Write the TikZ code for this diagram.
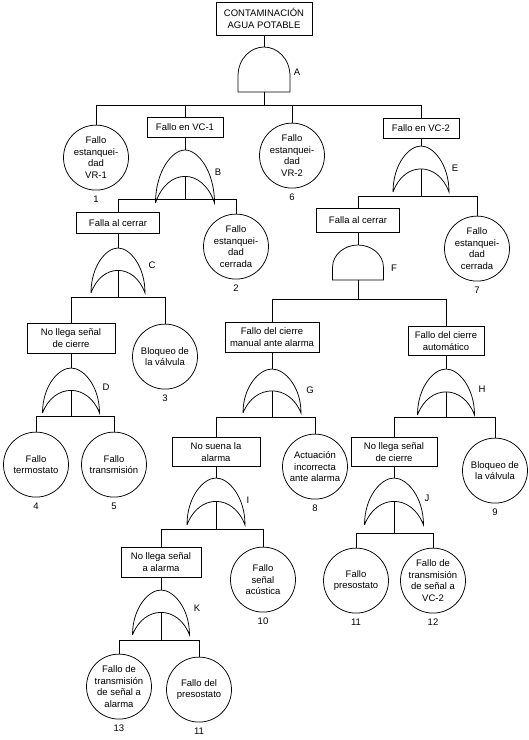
\documentclass[tikz,border=0pt]{standalone}
\usepackage{fontspec}
\setmainfont{Liberation Sans}
\usetikzlibrary{positioning}

\tikzset{
  pics/orgate/.style 2 args={code={
    \draw (-#1/2,0) .. controls (-#1/2,-0.6*#2) and (-0.22*#1,-#2) .. (0,-#2)
      .. controls (0.22*#1,-#2) and (#1/2,-0.6*#2) .. (#1/2,0)
      .. controls (0.3*#1,-0.67*#2) and (-0.3*#1,-0.67*#2) .. (-#1/2,0);
    \coordinate (-in) at (0,-#2);
    \coordinate (-out) at (0,-0.5*#2);
  }},
  pics/andgate/.style 2 args={code={
    \draw (-#1/2,0) -- (-#1/2,-0.35*#2)
      .. controls (-#1/2,-0.75*#2) and (-0.25*#1,-#2) .. (0,-#2)
      .. controls (0.25*#1,-#2) and (#1/2,-0.75*#2) .. (#1/2,-0.35*#2)
      -- (#1/2,0) -- cycle;
    \coordinate (-in) at (0,-#2);
    \coordinate (-out) at (0,0);
  }}
}

\begin{document}
\begin{tikzpicture}[x=1pt, y=-1pt, line width=0.75pt,
    every node/.style={font=\fontsize{9.5}{11.5}\selectfont},
    event/.style={draw, align=center, inner sep=0pt},
    basic/.style={draw, circle, align=center, inner sep=0pt, minimum size=65pt},
    num/.style={inner sep=0pt},
    glbl/.style={inner sep=0pt}]
    \useasboundingbox (0,0) rectangle (529,740);
    % top event
    \node[event, minimum width=96pt, minimum height=33pt] (top) at (264,18.5) {CONTAMINACIÓN\\AGUA POTABLE};
    \pic (gA) at (264,92) {andgate={52}{45}};
    \node[glbl] (lA) at (297,72) {A};
    \coordinate (jA) at (264,105);
    \node[basic] (c1) at (96,157.6) {Fallo\\estanquei-\\dad\\VR-1};
    \node[event, minimum width=76pt, minimum height=20pt] (vc1) at (185,127.5) {Fallo en VC-1};
    \node[basic] (c6) at (292,155.6) {Fallo\\estanquei-\\dad\\VR-2};
    \node[event, minimum width=76pt, minimum height=20pt] (vc2) at (421,128) {Fallo en VC-2};
    \draw (top) -- (gA-in);
    \draw (gA-out) -- (jA);
    \foreach \n in {c1,vc1,c6,vc2} \draw (jA) -| (\n);
    % left branch
    \pic (gB) at (185,203) {orgate={59}{53}};
    \node[glbl] (lB) at (218,172) {B};
    \coordinate (jB) at (185,199);
    \node[event, minimum width=83pt, minimum height=21pt] (fc1) at (118,223) {Falla al cerrar};
    \node[basic] (c2) at (236,246.6) {Fallo\\estanquei-\\dad\\cerrada};
    \draw (vc1) -- (gB-in);
    \draw (gB-out) -- (jB);
    \foreach \n in {fc1,c2} \draw (jB) -| (\n);
    \pic (gC) at (118,293) {orgate={54}{45}};
    \node[glbl] (lC) at (152,265) {C};
    \coordinate (jC) at (118,297);
    \node[event, minimum width=88pt, minimum height=30pt] (nl1) at (71,338) {No llega señal\\de cierre};
    \node[basic] (c3) at (165,356.6) {Bloqueo de\\la válvula};
    \draw (fc1) -- (gC-in);
    \draw (gC-out) -- (jC);
    \foreach \n in {nl1,c3} \draw (jC) -| (\n);
    \pic (gD) at (71,413) {orgate={57}{45}};
    \node[glbl] (lD) at (106,387) {D};
    \coordinate (jD) at (71,416);
    \node[basic] (c4) at (36,464.6) {Fallo\\termostato};
    \node[basic] (c5) at (114,464.6) {Fallo\\transmisión};
    \draw (nl1) -- (gD-in);
    \draw (gD-out) -- (jD);
    \foreach \n in {c4,c5} \draw (jD) -| (\n);
    % right branch
    \pic (gE) at (421,192) {orgate={56}{46}};
    \node[glbl] (lE) at (455,168) {E};
    \coordinate (jE) at (421,196);
    \node[event, minimum width=83pt, minimum height=24pt] (fc2) at (358,220) {Falla al cerrar};
    \node[basic] (c7) at (477,248.6) {Fallo\\estanquei-\\dad\\cerrada};
    \draw (vc2) -- (gE-in);
    \draw (gE-out) -- (jE);
    \foreach \n in {fc2,c7} \draw (jE) -| (\n);
    \pic (gF) at (358,280) {andgate={51}{35}};
    \node[glbl] (lF) at (394,268) {F};
    \coordinate (jF) at (358,299);
    \node[event, minimum width=94pt, minimum height=30pt] (fm) at (272,337) {Fallo del cierre\\manual ante alarma};
    \node[event, minimum width=76pt, minimum height=29pt] (fa) at (446,341) {Fallo del cierre\\automático};
    \draw (fc2) -- (gF-in);
    \draw (gF-out) -- (jF);
    \foreach \n in {fm,fa} \draw (jF) -| (\n);
    \pic (gG) at (272,413) {orgate={58}{44}};
    \node[glbl] (lG) at (310,390) {G};
    \coordinate (jG) at (272,417);
    \node[event, minimum width=88pt, minimum height=29pt] (ns) at (216,452) {No suena la\\alarma};
    \node[basic] (c8) at (315,466.6) {Actuación\\incorrecta\\ante alarma};
    \draw (fm) -- (gG-in);
    \draw (gG-out) -- (jG);
    \foreach \n in {ns,c8} \draw (jG) -| (\n);
    \pic (gH) at (446,415) {orgate={57}{46}};
    \node[glbl] (lH) at (482,389) {H};
    \coordinate (jH) at (446,417);
    \node[event, minimum width=86pt, minimum height=29pt] (nl2) at (394,452) {No llega señal\\de cierre};
    \node[basic] (c9) at (495,470.6) {Bloqueo de\\la válvula};
    \draw (fa) -- (gH-in);
    \draw (gH-out) -- (jH);
    \foreach \n in {nl2,c9} \draw (jH) -| (\n);
    \pic (gI) at (216,525) {orgate={58}{47}};
    \node[glbl] (lI) at (248,500) {I};
    \coordinate (jI) at (216,529);
    \node[event, minimum width=80pt, minimum height=30pt] (na) at (161,562) {No llega señal\\a alarma};
    \node[basic] (c10) at (263,579.6) {Fallo\\señal\\acústica};
    \draw (ns) -- (gI-in);
    \draw (gI-out) -- (jI);
    \foreach \n in {na,c10} \draw (jI) -| (\n);
    \pic (gJ) at (394,525) {orgate={59}{47}};
    \node[glbl] (lJ) at (427,498) {J};
    \coordinate (jJ) at (394,533);
    \node[basic] (c11a) at (356,580.6) {Fallo\\presostato};
    \node[basic] (c12) at (433,580.6) {Fallo de\\transmisión\\de señal a\\VC-2};
    \draw (nl2) -- (gJ-in);
    \draw (gJ-out) -- (jJ);
    \foreach \n in {c11a,c12} \draw (jJ) -| (\n);
    \pic (gK) at (161,635) {orgate={57}{45}};
    \node[glbl] (lK) at (197,608) {K};
    \coordinate (jK) at (161,640);
    \node[basic] (c13) at (119,686.6) {Fallo de\\transmisión\\de señal a\\alarma};
    \node[basic] (c11b) at (199,689.6) {Fallo del\\presostato};
    \draw (na) -- (gK-in);
    \draw (gK-out) -- (jK);
    \foreach \n in {c13,c11b} \draw (jK) -| (\n);
    % basic event numbers
    \node[num, below=5pt of c1] (n1) {1};
    \node[num, below=5pt of c2] (n2) {2};
    \node[num, below=5pt of c3] (n3) {3};
    \node[num, below=5pt of c4] (n4) {4};
    \node[num, below=5pt of c5] (n5) {5};
    \node[num, below=5pt of c6] (n6) {6};
    \node[num, below=5pt of c7] (n7) {7};
    \node[num, below=5pt of c8] (n8) {8};
    \node[num, below=5pt of c9] (n9) {9};
    \node[num, below=5pt of c10] (n10) {10};
    \node[num, below=5pt of c11a] (n11a) {11};
    \node[num, below=5pt of c12] (n12) {12};
    \node[num, below=5pt of c13] (n13) {13};
    \node[num, below=5pt of c11b] (n11b) {11};
\end{tikzpicture}
\end{document}
